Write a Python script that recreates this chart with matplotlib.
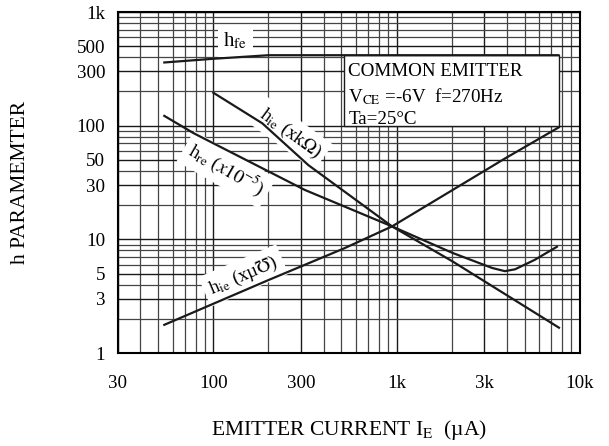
import matplotlib
matplotlib.use("Agg")
import matplotlib.pyplot as plt
from matplotlib.patches import Rectangle
from matplotlib.ticker import LogLocator, FixedLocator, NullFormatter

plt.rcParams['font.family'] = ['Liberation Serif', 'DejaVu Serif']
plt.rcParams['mathtext.fontset'] = 'stix'

# ---- data ----
hfe_x = [54, 100, 200, 500, 1000, 3000, 7650]
hfe_y = [360, 388, 417, 417, 417, 417, 417]

hie_k_x = [100, 185, 330, 945, 2020, 7700]
hie_k_y = [195, 105, 45, 13.0, 6.4, 1.67]

hre_x = [54, 78, 92, 316, 945, 2020, 3325, 3900, 4430, 5675, 7500]
hre_y = [122, 86, 75, 27.2, 13.0, 7.6, 5.6, 5.25, 5.45, 6.6, 8.6]

hoe_x = [54, 201, 519, 945, 3917, 7690]
hoe_y = [1.77, 4.4, 8.35, 13.0, 51.6, 96.8]

x_ticks = [30, 100, 300, 1000, 3000, 10000]
x_labels = ['30', '100', '300', '1k', '3k', '10k']
y_ticks = [1, 3, 5, 10, 30, 50, 100, 300, 500, 1000]
y_labels = ['1', '3', '5', '10', '30', '50', '100', '300', '500', '1k']

FS = 13.7

fig = plt.figure(figsize=(6.09, 4.46), dpi=100)
ax = fig.add_axes([0.193, 0.2085, 0.759, 0.7645])
ax.set_xscale('log')
ax.set_yscale('log')
ax.set_xlim(30, 10000)
ax.set_ylim(1, 1000)

ax.xaxis.set_major_locator(FixedLocator(x_ticks))
ax.set_xticklabels(x_labels)
ax.yaxis.set_major_locator(FixedLocator(y_ticks))
ax.set_yticklabels(y_labels)
ax.xaxis.set_minor_locator(LogLocator(base=10, subs=range(2, 10), numticks=20))
ax.yaxis.set_minor_locator(LogLocator(base=10, subs=range(2, 10), numticks=20))
ax.xaxis.set_minor_formatter(NullFormatter())
ax.yaxis.set_minor_formatter(NullFormatter())
ax.tick_params(which='both', length=0, labelsize=FS)
ax.tick_params(axis='x', pad=16)
ax.tick_params(axis='y', pad=9)

ax.set_axisbelow(True)
ax.grid(True, which='major', color='#1a1a1a', lw=1.0)
ax.grid(True, which='minor', color='#444444', lw=0.9)
for s in ax.spines.values():
    s.set_linewidth(1.5)

lw = 1.6
ax.plot(hfe_x, hfe_y, color='#1a1a1a', lw=lw, zorder=3)
ax.plot(hie_k_x, hie_k_y, color='#1a1a1a', lw=lw, zorder=3)
ax.plot(hre_x, hre_y, color='#1a1a1a', lw=lw, zorder=3)
ax.plot(hoe_x, hoe_y, color='#1a1a1a', lw=lw, zorder=3)

# condition box
ax.add_patch(Rectangle((515, 99), 7690 - 515, 417 - 99, facecolor='white',
                       edgecolor='#1a1a1a', lw=1.0, zorder=1.5))
ax.text(545, 300, 'COMMON EMITTER', fontsize=FS, va='center', ha='left', zorder=1.6)
ax.text(545, 180, r'V$_{\rm CE}$ =-6V  f=270Hz', fontsize=FS, va='center', ha='left', zorder=1.6)
ax.text(545, 114, 'Ta=25°C', fontsize=FS, va='center', ha='left', zorder=1.6)

bb = dict(facecolor='white', edgecolor='none', pad=4)
ax.text(132, 560, r'h$_{\rm fe}$', fontsize=15, ha='center', va='center',
        bbox=bb, zorder=1.6)
ax.text(262, 86, r'h$_{\rm ie}$ (xk$\Omega$)', fontsize=FS, ha='center', va='center',
        rotation=-36, rotation_mode='anchor', bbox=bb, zorder=1.6)
ax.text(118, 41, r'h$_{\rm re}$ ($x10^{-5}$)', fontsize=FS, ha='center', va='center',
        rotation=-30, rotation_mode='anchor', bbox=bb, zorder=1.6)
ax.text(146, 4.8, r'h$_{\rm ie}$ (xµ$\mho$)', fontsize=FS, ha='center', va='center',
        rotation=23, rotation_mode='anchor', bbox=bb, zorder=1.6)

ax.set_xlabel(r'EMITTER CURRENT I$_{\rm E}$  (µA)', fontsize=15.5)
ax.xaxis.set_label_coords(0.5, -0.19)
ax.set_ylabel('h PARAMEMTER', fontsize=15.5)
ax.yaxis.set_label_coords(-0.19, 0.5)

fig.savefig('out.png', dpi=100)
